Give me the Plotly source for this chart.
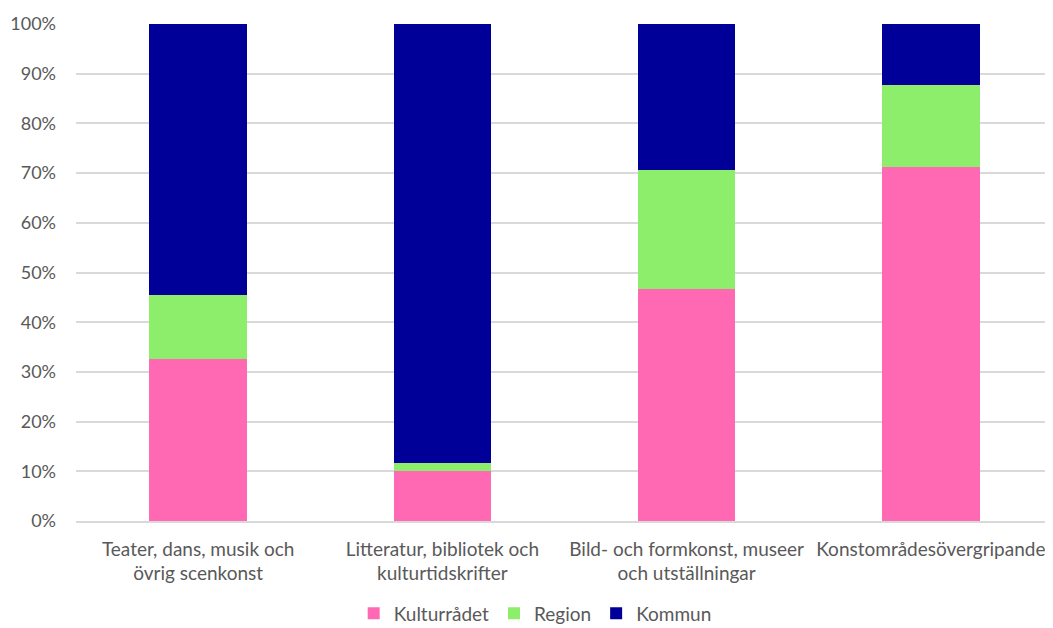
import plotly.graph_objects as go

categories = [
    "Teater, dans, musik och<br>övrig scenkonst",
    "Litteratur, bibliotek och<br>kulturtidskrifter",
    "Bild- och formkonst, museer<br>och utställningar",
    "Konstområdesövergripande",
]
kulturradet = [32.5, 10.0, 46.7, 71.2]
region = [13.0, 1.6, 24.0, 16.5]
kommun = [54.5, 88.4, 29.3, 12.3]

series = [
    ("Kulturrådet", kulturradet, "#FF69B4"),
    ("Region", region, "#8CEE6B"),
    ("Kommun", kommun, "#000099"),
]

fig = go.Figure()
for name, vals, color in series:
    fig.add_trace(go.Bar(
        x=categories, y=vals, name=name,
        marker=dict(color=color, line=dict(width=0)),
    ))

font_family = "Lato, 'Open Sans', sans-serif"
fig.update_layout(
    barmode="stack",
    bargap=0.6,
    width=1045, height=620,
    margin=dict(l=68, r=0, t=16, b=107, autoexpand=False),
    paper_bgcolor="white", plot_bgcolor="white",
    font=dict(family=font_family, size=19, color="#595959"),
    showlegend=True,
    legend=dict(
        orientation="h", x=0.47, xanchor="center", y=-0.186, yanchor="middle",
        font=dict(size=19, color="#595959"), traceorder="normal",
        itemwidth=30,
    ),
    yaxis=dict(
        range=[0, 100], dtick=10, ticksuffix="%",
        showgrid=True, gridcolor="#D9D9D9", gridwidth=1.5,
        zeroline=False, showline=False, ticks="",
        ticklabelstandoff=19, automargin=False,
        tickfont=dict(size=18, color="#595959"),
    ),
    xaxis=dict(
        showgrid=False, zeroline=False,
        showline=True, linecolor="#D9D9D9", linewidth=1.5,
        ticks="", ticklabelstandoff=10, automargin=False,
        tickangle=0,
        tickfont=dict(size=19, color="#595959"),
    ),
)

fig.write_html("out.html")
